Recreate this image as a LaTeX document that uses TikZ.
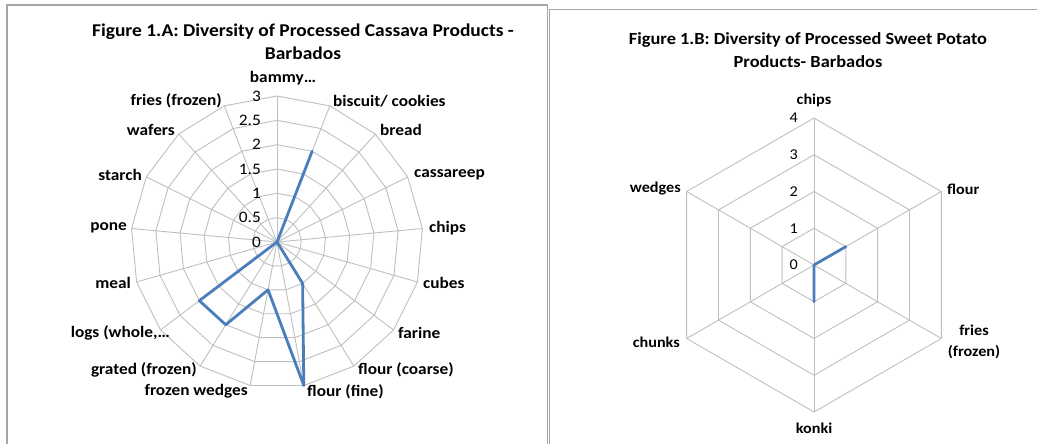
\documentclass[tikz,border=0pt]{standalone}
\usepackage{fontspec}
\setmainfont{Carlito}[FakeStretch=1.08]
\usetikzlibrary{positioning}
\definecolor{gridgray}{HTML}{BFBFBF}
\definecolor{serieblue}{HTML}{4A7EBB}
\definecolor{framegray}{HTML}{A5A5A5}

\begin{document}
\begin{tikzpicture}[x=1pt, y=-1pt,
    grid line/.style={draw=gridgray, line width=0.9pt},
    series/.style={draw=serieblue, line width=2.8pt, line join=round},
    frame/.style={draw=framegray, line width=1.6pt},
    cat/.style={font=\bfseries\fontsize{16}{19}\selectfont, inner sep=0pt},
    catb/.style={font=\bfseries\fontsize{15}{20.5}\selectfont, inner sep=0pt, align=center},
    val/.style={font=\fontsize{16}{19}\selectfont, inner sep=0pt, anchor=east},
    valb/.style={font=\fontsize{15}{18}\selectfont, inner sep=0pt, anchor=east},
    title/.style={font=\bfseries\fontsize{18}{23}\selectfont, inner sep=0pt, align=center},
    titleb/.style={font=\bfseries\fontsize{17}{23.5}\selectfont, inner sep=0pt, align=center}]
    \useasboundingbox (0,0) rectangle (1037,444);

    % panel frames
    \draw[frame] (6.7,444) -- (6.7,5.3) -- (547.3,5.3) -- (547.3,444);
    \draw[frame] (549.5,444) -- (549.5,9.5) -- (1037,9.5);

    % Figure 1.A : cassava, 17 spokes
    \begin{scope}[shift={(277,242)}]
        \foreach \k in {1,...,6}
            \draw[grid line] (-90:\k*24.333) \foreach \i in {1,...,16} {-- (-90+\i*360/17:\k*24.333)} -- cycle;
        \foreach \i in {0,...,16}
            \draw[grid line] (0,0) -- (-90+\i*360/17:146) coordinate (s\i);
        \foreach \v [count=\i from 0] in {0,2,0,0,0,0,0,1,3,1,2,2,0,0,0,0,0}
            \coordinate (a\i) at (-90+\i*360/17:\v*48.667);
        \draw[series] (a0) \foreach \i in {1,...,16} {-- (a\i)} -- cycle;
    \end{scope}
    \foreach \t [count=\k from 0] in {0,0.5,1,1.5,2,2.5,3}
        \node[val] (va\k) at (261,242-\k*24.333) {\t};

    \node[title] (titleA) at (303,41.5) {Figure 1.A: Diversity of Processed Cassava Products -\\Barbados};
    \node[cat] (bammy) at (283,78) {bammy\dots};
    \node[cat, anchor=west] (biscuit) at (333,101) {biscuit/ cookies};
    \node[cat, anchor=west] (bread) at (380,130) {bread};
    \node[cat, anchor=west] (cassareep) at (414,175) {cassareep};
    \node[cat, anchor=west] (chipsA) at (429,228) {chips};
    \node[cat, anchor=west] (cubes) at (423,283) {cubes};
    \node[cat, anchor=west] (farine) at (398,333) {farine};
    \node[cat, anchor=west] (coarse) at (358,370) {flour (coarse)};
    \node[cat, anchor=west] (fine) at (307,392) {flour (fine)};
    \node[cat, anchor=east] (fwedges) at (248,391) {frozen wedges};
    \node[cat, anchor=east] (grated) at (197,370) {grated (frozen)};
    \node[cat, anchor=east] (logs) at (170,333) {logs (whole,\dots};
    \node[cat, anchor=east] (meal) at (131,283) {meal};
    \node[cat, anchor=east] (pone) at (127,228) {pone};
    \node[cat, anchor=east] (starch) at (142,175) {starch};
    \node[cat, anchor=east] (wafers) at (175,130) {wafers};
    \node[cat, anchor=east] (friesA) at (222,101) {fries (frozen)};

    % Figure 1.B : sweet potato, 6 spokes
    \begin{scope}[shift={(814,265)}]
        \foreach \k in {1,...,4}
            \draw[grid line] (-90:\k*36.75) \foreach \i in {1,...,5} {-- (-90+\i*60:\k*36.75)} -- cycle;
        \foreach \i in {0,...,5}
            \draw[grid line] (0,0) -- (-90+\i*60:147) coordinate (t\i);
        \foreach \v [count=\i from 0] in {0,1,0,1,0,0}
            \coordinate (b\i) at (-90+\i*60:\v*36.75);
        \draw[series] (b0) \foreach \i in {1,...,5} {-- (b\i)} -- cycle;
    \end{scope}
    \foreach \k in {0,...,4}
        \node[valb] (vb\k) at (798,265-\k*36.75) {\k};

    \node[titleb] (titleB) at (808,50) {Figure 1.B: Diversity of Processed Sweet Potato\\Products- Barbados};
    \node[catb] (chipsB) at (814,100) {chips};
    \node[catb, anchor=west] (flour) at (947,189) {flour};
    \node[catb] (friesB) at (974,342) {fries\\(frozen)};
    \node[catb] (konki) at (814,428) {konki};
    \node[catb, anchor=east] (chunks) at (680,342) {chunks};
    \node[catb, anchor=east] (wedges) at (681,189) {wedges};
\end{tikzpicture}
\end{document}
